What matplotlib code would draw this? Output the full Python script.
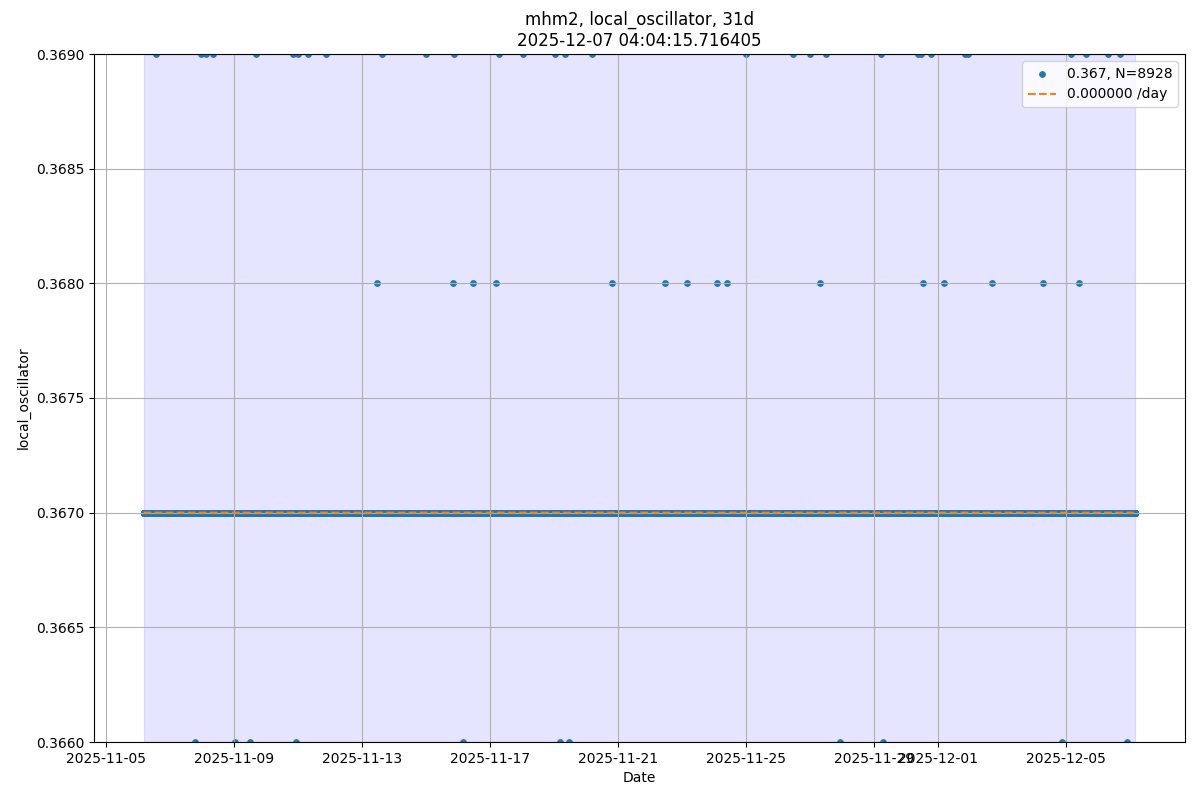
import numpy as np
import pandas as pd
from matplotlib import pyplot as plt

# sampling: 31 days, one point every 5 minutes
start_time = "2025-11-06 04:05"
n_points = 8928
sample_freq = "5min"
base_value = 0.367

# readings that were off the baseline (time, value)
high_times = ["2025-11-06 13:26", "2025-11-07 23:08", "2025-11-08 02:53", "2025-11-08 08:07",
              "2025-11-09 16:19", "2025-11-10 20:02", "2025-11-10 23:47", "2025-11-11 07:16",
              "2025-11-11 20:44", "2025-11-13 14:41", "2025-11-14 23:37", "2025-11-15 20:35",
              "2025-11-17 07:02", "2025-11-18 01:00", "2025-11-19 00:59", "2025-11-19 08:28",
              "2025-11-20 04:41", "2025-11-25 00:00", "2025-11-26 11:11", "2025-11-26 23:56",
              "2025-11-27 11:54", "2025-11-29 05:05", "2025-11-30 08:48", "2025-11-30 11:02",
              "2025-11-30 18:32", "2025-12-01 20:00", "2025-12-01 22:15", "2025-12-05 03:22",
              "2025-12-05 14:36", "2025-12-06 07:05", "2025-12-06 16:03"]
high_value = 0.369

mid_times = ["2025-11-13 11:27", "2025-11-15 20:22", "2025-11-16 11:03", "2025-11-17 04:16",
             "2025-11-20 19:26", "2025-11-22 10:50", "2025-11-23 03:36", "2025-11-24 02:31",
             "2025-11-24 10:00", "2025-11-27 07:38", "2025-11-30 12:46", "2025-12-01 04:29",
             "2025-12-02 16:26", "2025-12-04 06:37", "2025-12-05 09:34"]
mid_value = 0.368

low_times = ["2025-11-07 18:39", "2025-11-09 00:53", "2025-11-09 12:12", "2025-11-10 22:35",
             "2025-11-16 03:42", "2025-11-19 04:25", "2025-11-19 11:01", "2025-11-27 22:41",
             "2025-11-29 06:45", "2025-12-04 21:00", "2025-12-06 21:50"]
low_value = 0.366

trend_slope = 0.0  # per day

times = pd.date_range(start_time, periods=n_points, freq=sample_freq)
values = np.full(n_points, base_value)
for tlist, v in [(high_times, high_value), (mid_times, mid_value), (low_times, low_value)]:
    idx = times.get_indexer(pd.to_datetime(tlist), method="nearest")
    values[idx] = v

mean = np.mean(values)
days = (times - times[0]) / pd.Timedelta(1, "D")
trend = base_value + trend_slope * days

fig, ax = plt.subplots(figsize=(12, 8), dpi=100)
ax.axvspan(times[0], times[-1], color="blue", alpha=0.1)
ax.scatter(times, values, s=15, label=f"{mean:.3f}, N={len(values)}")
ax.plot(times, trend, "--", color="C1", label=f"{trend_slope:.6f} /day")
ax.set_ylim(0.366, 0.369)
ax.set_title("mhm2, local_oscillator, 31d\n2025-12-07 04:04:15.716405")
ax.set_xlabel("Date")
ax.set_ylabel("local_oscillator")
ax.grid(True)
ax.legend(loc="upper right")
fig.subplots_adjust(left=0.0783, right=0.9875, top=0.9325, bottom=0.0725)
fig.savefig("out.png")
